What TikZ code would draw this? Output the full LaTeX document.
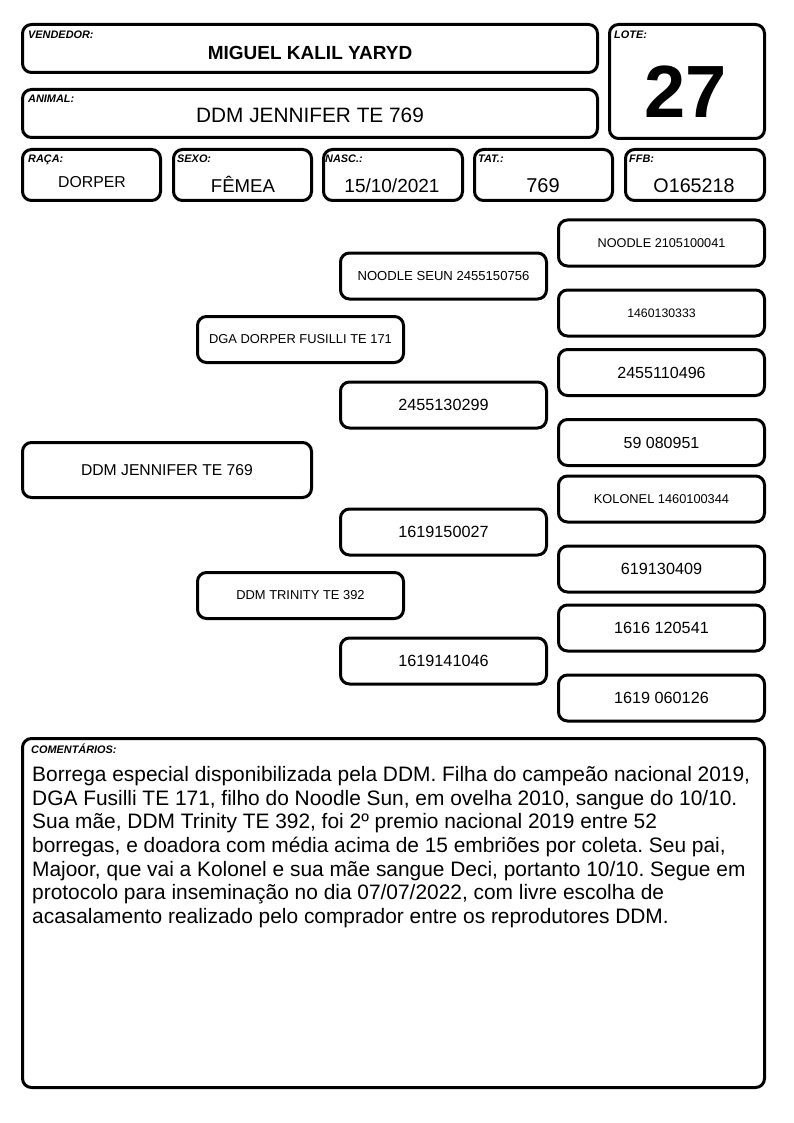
\documentclass[tikz,border=0pt]{standalone}
\usepackage{fontspec}
\setmainfont{Liberation Sans}
\newcommand{\tam}[1]{\fontsize{#1}{#1}\selectfont}

\tikzset{
  campo/.style={draw, rounded corners=9pt, line width=3pt, inner sep=0pt},
  rotulo/.style={anchor=base west, inner sep=0pt, font=\tam{10.9}\bfseries\itshape},
  valor/.style={anchor=base, inner sep=0pt},
  arvore/.style={campo, minimum width=206pt, minimum height=46pt}
}

\begin{document}
\begin{tikzpicture}[x=1pt, y=-1pt]
\useasboundingbox (0,0) rectangle (794,1123);

% cabecalho
\node (vendedor) [campo, minimum width=575pt, minimum height=48pt] at (310,48.5) {};
\node (lote) [campo, minimum width=155pt, minimum height=114pt] at (687,81.5) {};
\node (animal) [campo, minimum width=575pt, minimum height=48pt] at (310,113.5) {};
\node (raca) [campo, minimum width=138pt, minimum height=51pt] at (91.5,175) {};
\node (sexo) [campo, minimum width=138pt, minimum height=51pt] at (242.5,175) {};
\node (nasc) [campo, minimum width=139pt, minimum height=51pt] at (393,175) {};
\node (tat) [campo, minimum width=138pt, minimum height=51pt] at (543.5,175) {};
\node (ffb) [campo, minimum width=139pt, minimum height=51pt] at (695,175) {};

\node (vendedor rot) [rotulo] at (28,38.7) {VENDEDOR:};
\node (lote rot) [rotulo] at (614,39) {LOTE:};
\node (animal rot) [rotulo] at (28,103) {ANIMAL:};
\node (raca rot) [rotulo] at (28,163) {RAÇA:};
\node (sexo rot) [rotulo] at (177,163) {SEXO:};
\node (nasc rot) [rotulo] at (325,163) {NASC.:};
\node (tat rot) [rotulo] at (478,163) {TAT.:};
\node (ffb rot) [rotulo] at (629,163) {FFB:};

\node (vendedor val) [valor, font=\tam{19}\bfseries] at (310,60) {MIGUEL KALIL YARYD};
\node (lote val) [valor, font=\tam{74}\bfseries] at (686,118) {27};
\node (animal val) [valor, font=\tam{20.8}] at (310,122.7) {DDM JENNIFER TE 769};
\node (raca val) [valor, font=\tam{15.8}] at (92,187.7) {DORPER};
\node (sexo val) [valor, font=\tam{18.6}] at (243,193) {FÊMEA};
\node (nasc val) [valor, font=\tam{19}] at (392,193) {15/10/2021};
\node (tat val) [valor, font=\tam{20}] at (543,193) {769};
\node (ffb val) [valor, font=\tam{19.7}] at (694,193) {O165218};

% genealogia
\node (filha) [campo, minimum width=289pt, minimum height=55pt, font=\tam{15.7}] at (167,470) {DDM JENNIFER TE 769};
\node (pai) [arvore, font=\tam{12.9}] at (300.5,339.5) {DGA DORPER FUSILLI TE 171};
\node (mae) [arvore, font=\tam{12.9}] at (300.5,595.5) {DDM TRINITY TE 392};

\node (pp) [arvore, font=\tam{13.1}] at (443.5,276) {NOODLE SEUN 2455150756};
\node (pm) [arvore, font=\tam{16.2}] at (443.5,405) {2455130299};
\node (mp) [arvore, font=\tam{16.2}] at (443.5,532) {1619150027};
\node (mm) [arvore, font=\tam{16.2}] at (443.5,661) {1619141046};

\node (ppp) [arvore, font=\tam{12.7}] at (661.5,243) {NOODLE 2105100041};
\node (ppm) [arvore, font=\tam{12.3}] at (661.5,313) {1460130333};
\node (pmp) [arvore, font=\tam{16.1}] at (661.5,372.5) {2455110496};
\node (pmm) [arvore, font=\tam{16}] at (661.5,442.5) {59 080951};
\node (mpp) [arvore, font=\tam{12.8}] at (661.5,499) {KOLONEL 1460100344};
\node (mpm) [arvore, font=\tam{16.2}] at (661.5,569) {619130409};
\node (mmp) [arvore, font=\tam{16.2}] at (661.5,628) {1616 120541};
\node (mmm) [arvore, font=\tam{16.2}] at (661.5,698) {1619 060126};

% comentarios
\node (comentarios) [campo, minimum width=742pt, minimum height=349pt] at (393.5,913) {};
\node (comentarios rot) [rotulo] at (31,753) {COMENTÁRIOS:};
\node (comentarios txt) [anchor=north west, inner sep=0pt, align=left,
  font={\fontsize{20.9}{23.67}\selectfont\frenchspacing}] at (32,766)
  {Borrega especial disponibilizada pela DDM. Filha do campeão nacional 2019,\\
   DGA Fusilli TE 171, filho do Noodle Sun, em ovelha 2010, sangue do 10/10.\\
   Sua mãe, DDM Trinity TE 392, foi 2º premio nacional 2019 entre 52\\
   borregas, e doadora com média acima de 15 embriões por coleta. Seu pai,\\
   Majoor, que vai a Kolonel e sua mãe sangue Deci, portanto 10/10. Segue em\\
   protocolo para inseminação no dia 07/07/2022, com livre escolha de\\
   acasalamento realizado pelo comprador entre os reprodutores DDM.};
\end{tikzpicture}
\end{document}
